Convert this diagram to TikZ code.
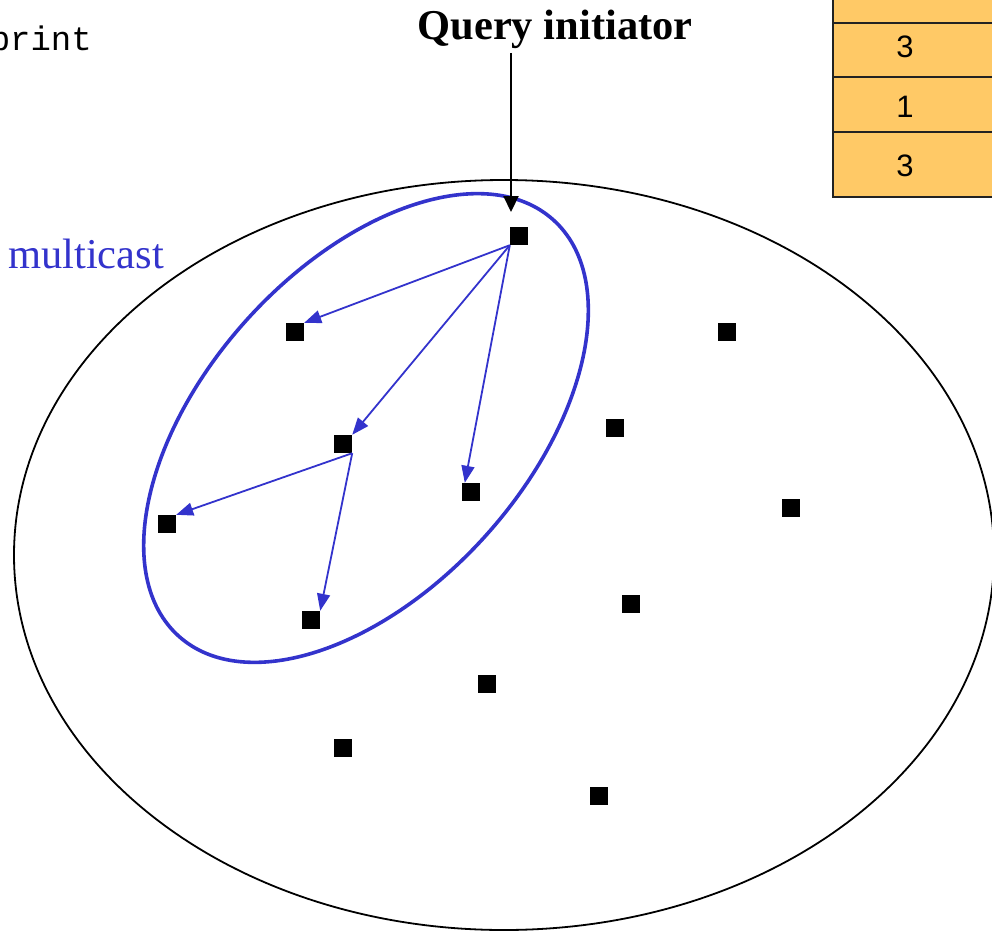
\documentclass[tikz,border=0pt]{standalone}
\usepackage{fontspec}
\setmainfont{Liberation Serif}
\newfontfamily\monofont{Liberation Mono}
\newfontfamily\tabfont{Liberation Sans}
\usetikzlibrary{arrows.meta}
\definecolor{mblue}{RGB}{51,51,204}
\definecolor{tabfill}{RGB}{255,201,102}
\definecolor{tabline}{RGB}{34,34,34}
\begin{document}
\begin{tikzpicture}[x=1pt,y=-1pt,
  sq/.style={fill=black,minimum size=18pt,inner sep=0pt},
  bluearrow/.style={draw=mblue,line width=1.8pt,-{Triangle[length=17pt,width=13pt,fill=mblue]}},
  cellbox/.style={fill=tabfill,draw=tabline,line width=1.5pt},
  digit/.style={font=\tabfont\fontsize{31}{36}\selectfont,inner sep=0pt},
  bigtext/.style={font=\fontsize{42.5}{50}\selectfont,inner sep=0pt}]
\useasboundingbox (0,0) rectangle (992,931);
\clip (0,0) rectangle (992,931);
% table
\draw[cellbox] (833,-10) rectangle (1010,23);
\draw[cellbox] (833,23) rectangle (1010,77);
\draw[cellbox] (833,77) rectangle (1010,132);
\draw[cellbox] (833,132) rectangle (1010,197);
\node[digit] (d1) at (905,47) {3};
\node[digit] (d2) at (905,107) {1};
\node[digit] (d3) at (905,166) {3};
% texts
\node[bigtext,anchor=base east,font=\monofont\fontsize{34}{40}\selectfont] (pr) at (92,51) {print};
\node[bigtext,anchor=base,font=\fontsize{42.5}{50}\selectfont\bfseries] (qi) at (555,40) {Query initiator};
\node[bigtext,anchor=base west,text=mblue] (mc) at (8,268) {multicast};
% ellipses
\draw[line width=1.8pt] (504,555) ellipse [x radius=490, y radius=375];
\draw[mblue,line width=3.6pt,rotate around={48:(366,428)}] (366,428) ellipse [x radius=280, y radius=161];
% nodes
\node[sq] (n1) at (519,236) {};
\node[sq] (n2) at (295,332) {};
\node[sq] (n3) at (727,332) {};
\node[sq] (n4) at (615,428) {};
\node[sq] (n5) at (343,444) {};
\node[sq] (n6) at (471,492) {};
\node[sq] (n7) at (167,524) {};
\node[sq] (n8) at (791,508) {};
\node[sq] (n9) at (631,604) {};
\node[sq] (n10) at (311,620) {};
\node[sq] (n11) at (487,684) {};
\node[sq] (n12) at (343,748) {};
\node[sq] (n13) at (599,796) {};
% query arrow
\coordinate (qtop) at (511,53);
\coordinate (qtip) at (511,212);
\draw[line width=2.2pt,-{Triangle[length=16pt,width=15pt]}] (qtop) -- (qtip);
% multicast arrows
\draw[bluearrow] (n1.south west) -- (n2.north east);
\draw[bluearrow] (n1.south west) -- (n5.north east);
\draw[bluearrow] (n1.south west) -- ([xshift=3pt]n6.north west);
\draw[bluearrow] (n5.south east) -- (n7.north east);
\draw[bluearrow] (n5.south east) -- (n10.north east);
\end{tikzpicture}
\end{document}
